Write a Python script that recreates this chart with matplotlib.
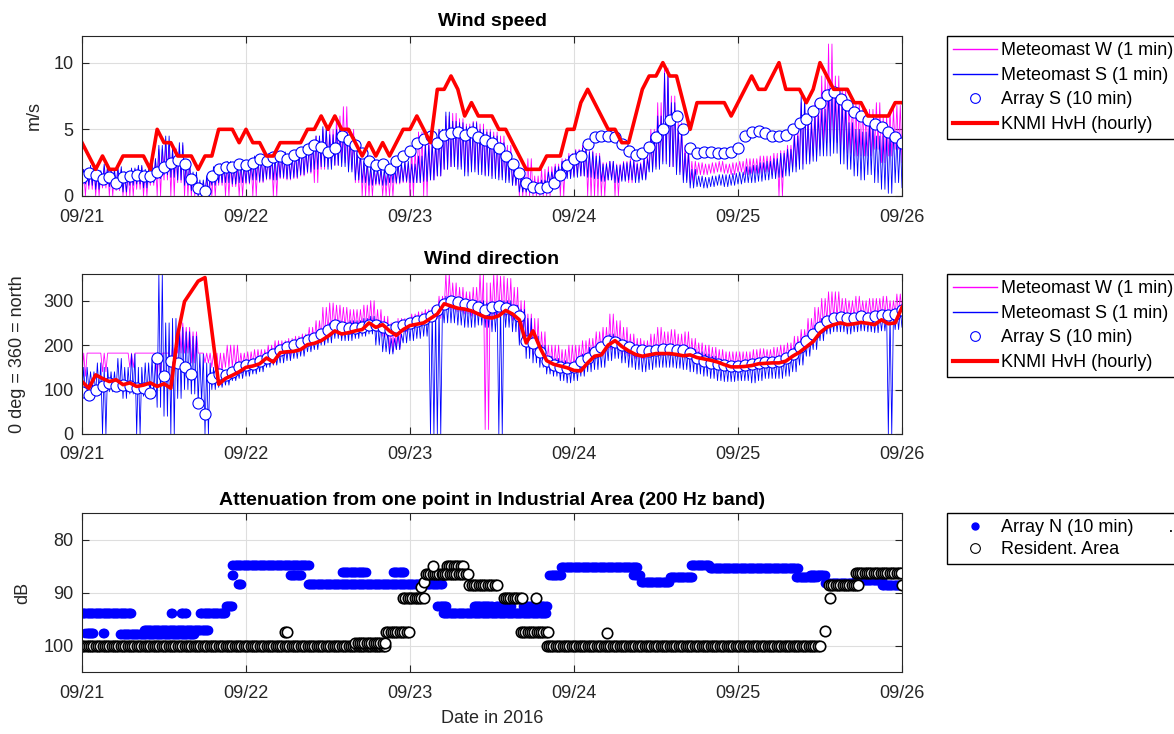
import numpy as np
import matplotlib
matplotlib.use('Agg')
import matplotlib.pyplot as plt
from matplotlib.lines import Line2D

plt.rcParams['font.family'] = ['Liberation Sans', 'DejaVu Sans']

# ---- time axis: hours after 2016-09-21 00:00 ----
hours = np.arange(121)
day_ticks = [0, 24, 48, 72, 96, 120]
day_labels = ['09/21', '09/22', '09/23', '09/24', '09/25', '09/26']

# ---- wind speed (m/s) ----
ws_knmi = [4, 3, 2, 3, 2, 2, 3, 3, 3, 3,
           2, 5, 4, 4, 3, 3, 3, 2, 3, 3,
           5, 5, 5, 4, 5, 4, 4, 3, 3, 4,
           4, 4, 4, 5, 5, 6, 5, 6, 5, 5,
           4, 3, 4, 3, 4, 3, 4, 5, 5, 6,
           5, 4, 8, 8, 9, 8, 6, 7, 6, 6,
           6, 5, 5, 4, 3, 2, 2, 2, 3, 3,
           3, 5, 5, 7, 8, 7, 6, 5, 5, 4,
           4, 6, 8, 9, 9, 10, 9, 9, 7, 5,
           7, 7, 7, 7, 7, 6, 7, 8, 9, 8,
           8, 9, 10, 8, 8, 8, 7, 8, 10, 9,
           8, 8, 8, 7, 7, 6, 6, 6, 6, 7, 7]

ws_array = [1.4, 1.7, 1.6, 1.3, 1.4, 1.0, 1.4, 1.5, 1.6, 1.5,
            1.5, 1.8, 2.2, 2.5, 2.7, 2.4, 1.3, 0.6, 0.4, 1.5,
            2.0, 2.2, 2.2, 2.4, 2.3, 2.5, 2.8, 2.6, 2.9, 3.0,
            2.8, 3.1, 3.3, 3.5, 3.8, 3.7, 3.3, 3.6, 4.5, 4.2,
            3.8, 3.2, 2.6, 2.3, 2.4, 2.0, 2.6, 3.0, 3.4, 4.0,
            4.3, 4.5, 4.0, 4.6, 4.7, 4.8, 4.6, 4.8, 4.4, 4.2,
            4.0, 3.6, 3.0, 2.4, 1.7, 1.0, 0.7, 0.6, 0.7, 1.0,
            1.6, 2.3, 2.8, 3.0, 3.9, 4.4, 4.5, 4.5, 4.4, 3.9,
            3.4, 3.1, 3.2, 3.7, 4.4, 5.0, 5.7, 6.0, 5.0, 3.6,
            3.2, 3.3, 3.3, 3.2, 3.2, 3.3, 3.6, 4.5, 4.8, 4.9,
            4.7, 4.5, 4.5, 4.6, 5.0, 5.5, 5.8, 6.4, 7.0, 7.6,
            7.8, 7.3, 6.8, 6.3, 6.0, 5.7, 5.4, 5.2, 4.8, 4.4, 4.0]

# 1-min meteomast data, read as hourly low / high of the noise band
ws_s_lo = [0.9, 0.8, 0.5, 0.9, 0.7, 0.8, 0.3, 0.8, 0.9, 0.6,
           1.0, 1.3, 1.6, 1.4, 1.2, 0.8, 0.4, 0.0, 0.2,
           0.8, 1.0, 1.0, 0.9, 1.0,
           1.0, 1.2, 1.1, 1.3, 1.2, 1.4, 1.3, 1.4,
           1.6, 1.8, 2.0, 2.2, 2.0, 2.3, 2.2, 1.8,
           1.2, 1.0, 0.8, 0.9, 0.8, 1.0, 1.0, 1.1,
           1.0, 1.0, 1.1, 1.2,
           1.5, 2.0, 2.2, 2.0, 1.5, 1.8, 1.6, 1.5,
           1.3, 1.2, 1.0, 0.8, 0.3, 0.3, 0.4, 0.4,
           0.8, 1.0, 1.2, 1.3,
           1.4, 1.5, 1.4, 1.3,
           1.1, 1.2, 1.0, 1.1, 1.2, 1.0, 1.2,
           1.8, 2.0, 2.4, 2.2, 1.6, 1.0, 0.6,
           0.7, 0.6, 0.7, 0.8, 0.7, 0.8, 0.9,
           1.0, 1.0, 1.1, 1.2, 1.3, 1.4, 1.5,
           1.8, 2.0, 2.4, 2.6, 3.0, 3.0, 3.2, 2.4, 2.0,
           1.5, 1.2, 1.6, 1.0, 0.5, 0.2, 1.0, 0.6]
ws_s_hi = [2.0, 2.3, 1.9, 2.4, 2.0, 2.2, 1.8, 2.1, 2.3, 2.0,
           2.8, 3.8, 4.5, 3.5, 4.0, 2.6, 1.8, 1.2, 1.5,
           2.2, 2.4, 2.6, 2.5, 2.4,
           2.6, 3.0, 2.8, 3.2, 3.0, 3.3, 3.1, 3.4,
           3.6, 4.0, 4.5, 5.2, 4.6, 5.0, 4.8, 4.2,
           3.2, 2.6, 2.2, 2.1, 2.0, 2.3, 2.5, 2.6,
           2.4, 3.0, 3.8, 4.0,
           5.0, 6.3, 5.6, 5.5, 5.2, 5.5, 5.0, 4.8,
           4.5, 4.0, 3.2, 2.4, 1.3, 1.0, 1.0, 1.2,
           1.8, 2.2, 2.6, 3.0,
           3.4, 3.6, 3.3, 3.0,
           2.4, 2.6, 2.3, 2.5, 2.6, 2.4, 2.8,
           4.5, 6.0, 9.2, 7.0, 5.0, 3.2, 2.0,
           1.5, 1.4, 1.5, 1.6, 1.6, 1.7, 1.8,
           2.2, 2.3, 2.5, 2.6, 2.8, 3.2, 3.5,
           4.5, 7.5, 5.5, 6.0, 6.5, 8.0, 7.5, 7.0, 5.5,
           5.0, 4.8, 5.5, 4.5, 4.5, 5.0, 4.4, 3.8]
ws_w_lo = [0, 0.5, 0, 0.6, 0, 0.4, 0, 0, 0.5, 0,
           0.8, 0, 1.2, 0, 1.0, 0, 0, 0, 0,
           0, 0.8, 0, 0.7, 0,
           0.9, 0, 1.0, 1.2, 0, 1.3, 1.2, 1.3,
           1.5, 1.7, 1.0, 2.0, 2.2, 2.3, 2.5, 2.0,
           1.0, 0, 0, 0.8, 0, 0, 0.9, 1.0,
           0, 1.0, 0, 1.2,
           1.5, 2.0, 2.2, 2.2, 1.8, 2.0, 1.8, 1.6,
           1.5, 1.4, 1.2, 0.8, 0, 0, 0, 0,
           0, 1.0, 0, 1.4,
           1.5, 1.5, 0, 0,
           0, 1.2, 0, 1.2, 1.0, 1.3, 1.3,
           2.0, 2.2, 2.6, 2.2, 1.8, 1.2, 1.0,
           1.6, 1.6, 1.7, 1.8, 1.7, 1.6, 1.8,
           1.6, 1.7, 1.7, 1.8, 1.6, 0, 2.0,
           2.2, 2.4, 2.6, 3.0, 3.5, 4.0, 4.0, 3.5, 3.2,
           3.0, 3.0, 3.0, 3.5, 2.5, 3.0, 3.5, 2.5]
ws_w_hi = [2.0, 2.2, 1.8, 2.2, 1.9, 2.0, 1.8, 2.0, 2.2, 1.8,
           2.8, 3.5, 4.0, 3.6, 3.8, 2.5, 1.6, 1.0, 1.4,
           2.0, 2.4, 2.4, 2.2, 2.2,
           2.5, 2.8, 2.8, 3.0, 2.8, 3.2, 3.0, 3.2,
           3.5, 4.0, 4.5, 5.0, 5.0, 6.0, 6.7, 5.0,
           3.5, 2.5, 2.0, 2.0, 1.8, 2.0, 2.3, 2.5,
           3.5, 4.8, 4.5, 4.2,
           5.0, 6.0, 6.2, 5.8, 5.4, 5.6, 5.4, 5.0,
           4.8, 4.5, 3.8, 2.5, 2.0, 2.8, 1.5, 2.0,
           2.2, 2.4, 2.8, 3.2,
           3.5, 3.8, 3.4, 3.2,
           2.5, 2.6, 2.4, 2.6, 2.8, 2.5, 3.0,
           5.0, 7.0, 9.6, 7.5, 5.5, 3.8, 2.6,
           2.5, 2.4, 2.5, 2.6, 2.4, 2.5, 2.6,
           2.8, 2.8, 3.0, 3.0, 3.2, 3.4, 3.8,
           5.0, 7.0, 6.0, 7.0, 9.0, 11.4, 9.0, 8.0, 7.2,
           7.0, 6.5, 6.5, 7.0, 6.0, 6.5, 6.8, 6.0]

# ---- wind direction (deg) ----
wd_knmi = [118, 103, 133, 125, 118, 122, 111, 115, 107, 110,
           115, 107, 113, 103, 223, 298, 321, 344, 352, 232,
           112, 125, 132, 140, 150, 153, 158, 171, 162, 183,
           185, 186, 190, 201, 204, 210, 220, 232, 225, 228,
           232, 235, 250, 240, 246, 232, 222, 235, 244, 247,
           250, 260, 270, 293, 288, 283, 281, 277, 270, 263,
           261, 266, 278, 270, 257, 205, 232, 195, 165, 157,
           153, 149, 143, 142, 160, 175, 178, 200, 210, 197,
           187, 179, 175, 178, 181, 181, 181, 179, 176, 178,
           172, 169, 166, 162, 156, 151, 151, 152, 154, 158,
           159, 160, 160, 164, 175, 184, 196, 208, 228, 240,
           246, 250, 246, 248, 251, 249, 246, 257, 248, 250, 285]

wd_array = [95, 88, 100, 107, 115, 107, 110, 108, 103, 104,
            92, 170, 130, 165, 160, 150, 135, 70, 45, 125,
            135, 132, 140, 150, 155, 158, 165, 172, 180, 188,
            195, 200, 205, 212, 215, 225, 235, 245, 240, 238,
            238, 240, 245, 245, 240, 235, 240, 245, 250, 255,
            258, 265, 280, 293, 300, 297, 293, 290, 285, 280,
            285, 288, 283, 278, 265, 210, 205, 185, 165, 155,
            150, 148, 150, 165, 172, 185, 195, 210, 207, 200,
            195, 190, 188, 187, 190, 192, 192, 190, 188, 182,
            170, 165, 160, 157, 155, 152, 152, 155, 158, 160,
            162, 162, 165, 170, 180, 195, 210, 225, 240, 255,
            262, 263, 262, 262, 265, 262, 265, 268, 268, 270, 278]

wd_s_lo = [80, 100, 90, 0, 95, 100, 80, 90, 0, 85, 90,
           60, 40, 0, 80, 100, 90, 70, 0, 100,
           105, 110, 120, 125,
           130, 135, 140, 150, 155, 160, 165, 170,
           175, 185, 190, 200, 205, 215, 210, 210,
           215, 220, 225, 200, 185, 180, 190, 205,
           210, 215, 220, 0,
           0, 250, 250, 245, 240, 240, 245, 240,
           230, 0, 240, 230, 200, 170, 160, 150,
           135, 130, 120, 115,
           120, 130, 140, 145,
           150, 165, 170, 160, 150, 145, 140,
           145, 150, 150, 150, 148, 145, 140,
           135, 130, 125, 120, 118, 118, 120,
           120, 115, 120, 125, 125, 125, 130,
           140, 155, 175, 190, 210, 225, 230,
           230, 225, 230, 232, 230, 228,
           232, 0, 235, 240]
wd_s_hi = [150, 140, 160, 150, 140, 170, 150, 180, 150, 160, 170,
           360, 250, 260, 240, 230, 220, 180, 160, 150,
           130, 140, 145, 155,
           160, 165, 172, 180, 185, 195, 200, 205,
           210, 215, 225, 235, 250, 255, 250, 255,
           255, 260, 265, 255, 230, 215, 225, 250,
           260, 265, 270, 280,
           290, 310, 305, 300, 295, 300, 300, 295,
           295, 300, 300, 290, 280, 260, 220, 200,
           175, 170, 165, 160,
           165, 180, 195, 200,
           205, 225, 215, 210, 200, 195, 190,
           195, 200, 200, 198, 195, 195, 190,
           185, 180, 175, 165, 160, 160, 160,
           162, 165, 168, 170, 172, 175, 180,
           195, 210, 225, 245, 260, 265, 270,
           270, 268, 270, 272, 270, 270,
           272, 275, 280, 285]
wd_w_lo = [130, 182, 182, 140, 182, 182, 182, 150, 182, 182, 182,
           130, 182, 150, 182, 182, 160, 182, 160, 150,
           140, 150, 150, 150,
           150, 155, 160, 165, 170, 175, 175, 185,
           190, 200, 205, 215, 230, 240, 240, 235,
           240, 240, 240, 230, 220, 185, 190, 230,
           240, 245, 250, 255,
           260, 280, 280, 275, 270, 265, 270, 10,
           265, 270, 265, 255, 215, 190, 180, 170,
           150, 150, 145, 145,
           150, 160, 170, 175,
           180, 190, 190, 180, 175, 170, 170,
           175, 180, 185, 185, 180, 175, 170,
           165, 160, 155, 150, 148, 150, 150,
           150, 150, 155, 160, 160, 165, 165,
           170, 185, 200, 220, 240, 255, 260,
           260, 265, 262, 265, 262, 265,
           265, 265, 270, 275]
wd_w_hi = [182, 182, 182, 182, 182, 182, 182, 182, 182, 182, 182,
           182, 182, 200, 250, 240, 230, 182, 182, 182,
           182, 200, 200, 182,
           185, 190, 190, 200, 210, 210, 215, 220,
           225, 240, 255, 285, 295, 290, 285, 280,
           280, 290, 300, 280, 265, 250, 260, 260,
           270, 275, 280, 285,
           310, 360, 340, 330, 320, 330, 360, 340,
           360, 355, 350, 330, 300, 270, 260, 230,
           200, 200, 190, 200,
           200, 210, 215, 230,
           240, 270, 255, 240, 225, 215, 210,
           225, 240, 230, 235, 225, 230, 215,
           205, 200, 195, 190, 185, 185, 185,
           185, 190, 192, 190, 195, 200, 205,
           220, 235, 260, 285, 305, 320, 320,
           305, 300, 310, 300, 305, 305,
           310, 300, 315, 320]

# ---- attenuation (dB): piecewise constant runs (start h, end h, level) ----
arrn_start = [0, 0.5, 3, 5.6, 9, 13, 14.5, 17.3, 21, 22, 22.8, 22, 30.4, 33, 38, 45.5,
              52, 52.8, 57.3, 60.6, 64.5, 68.4, 70.1, 80.7, 81.8, 86, 89.1, 91.9,
              104.5, 106.5, 108.7, 113.2, 117.1]
arrn_end = [7.3, 1.7, 3.3, 16.5, 18.5, 13.3, 15.2, 21, 22, 22.2, 23.3, 33.2, 32.1, 52.8, 41.6, 47.2,
            53.4, 68, 60, 62.8, 68, 70.1, 81.3, 81.8, 86, 89.4, 91.9, 104.8,
            107.6, 108.7, 113.2, 117.1, 120]
arrn_level = [93.9, 97.6, 97.6, 97.9, 97.1, 93.9, 93.9, 93.9, 92.5, 86.7, 88.4, 84.9, 86.7, 88.4, 86.1, 86.1,
              92.5, 93.9, 92.5, 92.5, 92.5, 86.7, 85.2, 86.7, 88.0, 87.0, 84.9, 85.3,
              87.0, 86.7, 88.3, 87.7, 88.6]

res_start = [0, 29.7, 40, 44.5, 47, 49.6, 50, 50.3, 51.3, 53.4, 52.8, 56.7, 61.7, 66.4,
             64.2, 68, 76.8, 108.7, 109.4, 109.3, 113.2, 120]
res_end = [44.5, 30.1, 44.5, 48, 50.3, 49.8, 50.2, 53, 51.5, 56, 56.5, 61, 64.5, 66.6,
           68.2, 108.3, 77, 109, 109.6, 113.8, 120, 120.1]
res_level = [100, 97.5, 99.5, 97.4, 91, 89, 88, 86.5, 85, 85, 86.5, 88.5, 91, 91,
             97.4, 100, 97.6, 97.3, 91, 88.5, 86.3, 88.5]


def runs(starts, ends, levels, step):
    t, v = [], []
    for a, b, lev in zip(starts, ends, levels):
        tt = np.arange(a, b + 1e-9, step)
        t.append(tt)
        v.append(np.full(len(tt), lev))
    return np.concatenate(t), np.concatenate(v)


def band(lo, hi):
    # draw the 1-min noise as a dense zigzag between low and high of each hour
    x = (hours[:, None] + np.array([0, 0.25, 0.5, 0.75])).ravel()
    lo = np.asarray(lo)
    hi = np.asarray(hi)
    y = np.column_stack([lo, hi, lo, hi]).ravel()
    return x, y


W, H = 1174, 734
fig = plt.figure(figsize=(W / 100, H / 100), dpi=100)
ax1 = fig.add_axes([82 / W, 1 - 196 / H, 820 / W, 160 / H])
ax2 = fig.add_axes([82 / W, 1 - 434 / H, 820 / W, 160 / H])
ax3 = fig.add_axes([82 / W, 1 - 672 / H, 820 / W, 159 / H])

dark = '0.15'
for ax in (ax1, ax2, ax3):
    ax.set_xlim(0, 120)
    ax.set_xticks(day_ticks)
    ax.set_xticklabels(day_labels)
    ax.grid(True, color='0.87', lw=0.8)
    ax.set_axisbelow(True)
    ax.tick_params(direction='in', top=True, right=True, length=5, width=0.8,
                   labelsize=13, colors=dark, labelcolor=dark)
    ax.tick_params(axis='x', pad=9)
    ax.tick_params(axis='y', pad=6)
    for s in ax.spines.values():
        s.set_color(dark)
        s.set_linewidth(0.8)

leg_kw = dict(loc='upper left', fontsize=13, frameon=True, fancybox=False,
              edgecolor='black', framealpha=1, borderaxespad=0, borderpad=0.35,
              handlelength=2.4, handletextpad=0.25, labelspacing=0.42)

wind_handles = [
    Line2D([], [], color='magenta', lw=1.0),
    Line2D([], [], color='blue', lw=1.0),
    Line2D([], [], ls='none', marker='o', ms=7, mfc='white', mec='blue', mew=0.8),
    Line2D([], [], color='red', lw=3),
]
wind_labels = ['Meteomast W (1 min)', 'Meteomast S (1 min)', 'Array S (10 min)',
               'KNMI HvH (hourly)']

# top: wind speed
x, y = band(ws_w_lo, ws_w_hi)
ax1.plot(x, y, color='magenta', lw=0.6)
x, y = band(ws_s_lo, ws_s_hi)
ax1.plot(x, y, color='blue', lw=0.6)
ax1.plot(hours, ws_array, 'o', ms=8, mfc='white', mec='blue', mew=0.8)
ax1.plot(hours, ws_knmi, color='red', lw=2.6)
ax1.set_ylim(0, 12)
ax1.set_yticks([0, 5, 10])
ax1.set_ylabel('m/s', fontsize=13, color=dark)
ax1.yaxis.set_label_coords(-0.048, 0.5)
ax1.set_title('Wind speed', fontsize=14, fontweight='bold', pad=7)
ax1.legend(wind_handles, wind_labels, bbox_to_anchor=(947 / W, 1 - 36 / H),
           bbox_transform=fig.transFigure, **leg_kw)

# middle: wind direction
x, y = band(wd_w_lo, wd_w_hi)
ax2.plot(x, y, color='magenta', lw=0.6)
x, y = band(wd_s_lo, wd_s_hi)
ax2.plot(x, y, color='blue', lw=0.6)
ax2.plot(hours, wd_array, 'o', ms=8, mfc='white', mec='blue', mew=0.8)
ax2.plot(hours, wd_knmi, color='red', lw=2.6)
ax2.set_ylim(0, 360)
ax2.set_yticks([0, 100, 200, 300])
ax2.set_ylabel('0 deg = 360 = north', fontsize=13, color=dark)
ax2.yaxis.set_label_coords(-0.068, 0.5)
ax2.set_title('Wind direction', fontsize=14, fontweight='bold', pad=7)
ax2.legend(wind_handles, wind_labels, bbox_to_anchor=(947 / W, 1 - 274 / H),
           bbox_transform=fig.transFigure, **leg_kw)

# bottom: attenuation
tn, vn = runs(arrn_start, arrn_end, arrn_level, 1 / 6)
tr, vr = runs(res_start, res_end, res_level, 1 / 3)
ax3.plot(tn, vn, 'o', ms=6, color='blue', mec='blue')
ax3.plot(tr, vr, 'o', ms=7.5, mfc='white', mec='black', mew=1.2)
ax3.set_ylim(105, 75)
ax3.set_yticks([80, 90, 100])
ax3.set_ylabel('dB', fontsize=13, color=dark)
ax3.yaxis.set_label_coords(-0.062, 0.5)
ax3.set_xlabel('Date in 2016', fontsize=13, color=dark, labelpad=6)
ax3.set_title('Attenuation from one point in Industrial Area (200 Hz band)',
              fontsize=14, fontweight='bold', pad=6)
att_handles = [
    Line2D([], [], ls='none', marker='o', ms=5, color='blue'),
    Line2D([], [], ls='none', marker='o', ms=7, mfc='white', mec='black', mew=0.8),
]
att_labels = ['Array N (10 min)       .', 'Resident. Area']
leg3 = dict(leg_kw)
leg3['labelspacing'] = 0.25
ax3.legend(att_handles, att_labels, bbox_to_anchor=(947 / W, 1 - 513 / H),
           bbox_transform=fig.transFigure, **leg3)

fig.savefig('out.png', dpi=100)
